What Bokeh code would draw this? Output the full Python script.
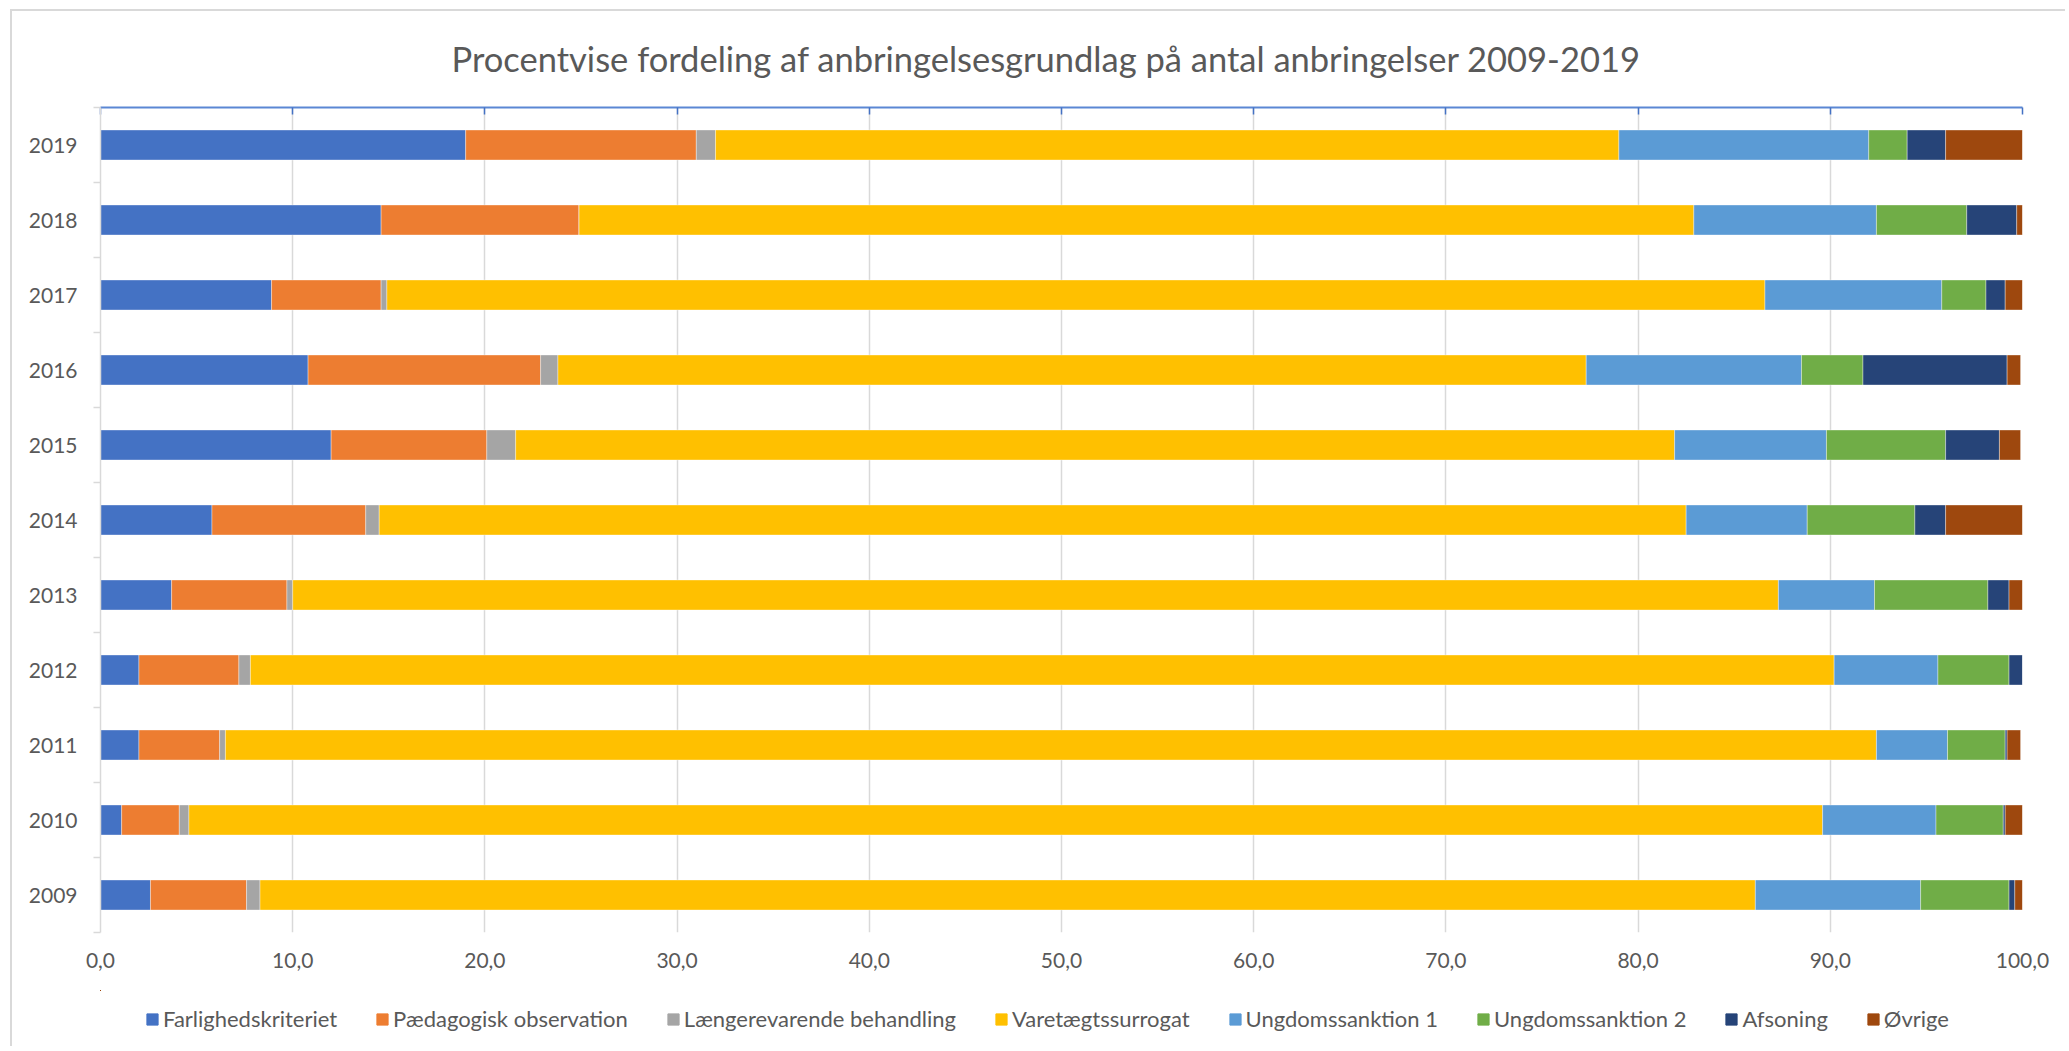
from bokeh.plotting import figure
from bokeh.models import ColumnDataSource, Range1d, FixedTicker, LinearAxis, Legend, LegendItem
from bokeh.layouts import column
from bokeh.embed import file_html
from bokeh.resources import INLINE

# ---------------- data ----------------
years = ["2009", "2010", "2011", "2012", "2013", "2014", "2015", "2016", "2017", "2018", "2019"]
farlighedskriteriet = [2.6, 1.1, 2.0, 2.0, 3.7, 5.8, 12.0, 10.8, 8.9, 14.6, 19.0]
paedagogisk_observation = [5.0, 3.0, 4.2, 5.2, 6.0, 8.0, 8.1, 12.1, 5.7, 10.3, 12.0]
laengerevarende_behandling = [0.7, 0.5, 0.3, 0.6, 0.3, 0.7, 1.5, 0.9, 0.3, 0.0, 1.0]
varetaegtssurrogat = [77.8, 85.0, 85.9, 82.4, 77.3, 68.0, 60.3, 53.5, 71.7, 58.0, 47.0]
ungdomssanktion_1 = [8.6, 5.9, 3.7, 5.4, 5.0, 6.3, 7.9, 11.2, 9.2, 9.5, 13.0]
ungdomssanktion_2 = [4.6, 3.5, 3.0, 3.7, 5.9, 5.6, 6.2, 3.2, 2.3, 4.7, 2.0]
afsoning = [0.3, 0.1, 0.1, 0.7, 1.1, 1.6, 2.8, 7.5, 1.0, 2.6, 2.0]
oevrige = [0.4, 0.9, 0.7, 0.0, 0.7, 4.0, 1.1, 0.7, 0.9, 0.3, 4.0]

series_names = ["Farlighedskriteriet", "Pædagogisk observation", "Længerevarende behandling",
                "Varetægtssurrogat", "Ungdomssanktion 1", "Ungdomssanktion 2", "Afsoning", "Øvrige"]
series_keys = ["farlig", "paed", "laeng", "varet", "ung1", "ung2", "afs", "ovr"]
series_values = [farlighedskriteriet, paedagogisk_observation, laengerevarende_behandling,
                 varetaegtssurrogat, ungdomssanktion_1, ungdomssanktion_2, afsoning, oevrige]
colors = ["#4472C4", "#ED7D31", "#A5A5A5", "#FFC000", "#5B9BD5", "#70AD47", "#264478", "#9E480E"]

x_ticks = [0, 10, 20, 30, 40, 50, 60, 70, 80, 90, 100]
x_tick_labels = ["0,0", "10,0", "20,0", "30,0", "40,0", "50,0", "60,0", "70,0", "80,0", "90,0", "100,0"]
title_text = "Procentvise fordeling af anbringelsesgrundlag på antal anbringelser 2009-2019"

# ---------------- build ----------------
y_pos = list(range(len(years)))
data = {"y": y_pos, "year": years}
for k, v in zip(series_keys, series_values):
    data[k] = v
source = ColumnDataSource(data)

TXT = "#595959"
FONT = "Lato"
BORDER = "#d9d9d9"
W = 2065

p = figure(width=W, height=990, output_backend="svg", toolbar_location=None,
           x_range=Range1d(0, 100), y_range=Range1d(-0.5, len(years) - 0.5),
           min_border_left=100, min_border_right=43, min_border_top=107, min_border_bottom=58)
p.outline_line_color = None
p.border_fill_color = None

p.title.text = title_text
p.title.align = "left"
p.title.offset = 351
p.title.text_font = FONT
p.title.text_font_size = "34.5px"
p.title.text_font_style = "normal"
p.title.text_color = TXT
p.title.standoff = 57

renderers = p.hbar_stack(series_keys, y="y", height=0.4, color=colors, source=source,
                         line_color="white", line_width=0.6, line_alpha=0.6)

# grid
p.ygrid.visible = False
p.xgrid.ticker = FixedTicker(ticks=x_ticks)
p.xgrid.grid_line_color = BORDER
p.xgrid.grid_line_width = 1.5

# bottom axis (labels only)
xa = p.xaxis[0]
xa.ticker = FixedTicker(ticks=x_ticks)
xa.major_label_overrides = {t: lab for t, lab in zip(x_ticks, x_tick_labels)}
xa.axis_line_color = None
xa.major_tick_line_color = None
xa.minor_tick_line_color = None
xa.major_tick_out = 0
xa.major_tick_in = 0
xa.major_label_standoff = 20
xa.major_label_text_font = FONT
xa.major_label_text_font_size = "21px"
xa.major_label_text_color = TXT

# top axis (blue line with inner ticks, no labels)
ta = LinearAxis(ticker=FixedTicker(ticks=[], minor_ticks=x_ticks))
ta.axis_line_color = "#5B87D4"
ta.axis_line_width = 2
ta.major_tick_line_color = None
ta.minor_tick_line_color = "#4472C4"
ta.minor_tick_line_width = 1.5
ta.minor_tick_in = 7
ta.minor_tick_out = 0
ta.major_tick_out = 0
p.add_layout(ta, "above")

# left axis (year labels, ticks between categories)
ya = p.yaxis[0]
ya.ticker = FixedTicker(ticks=y_pos, minor_ticks=[i - 0.5 for i in range(len(years) + 1)])
ya.major_label_overrides = {i: yr for i, yr in zip(y_pos, years)}
ya.major_tick_line_color = None
ya.major_tick_out = 0
ya.major_tick_in = 0
ya.minor_tick_line_color = BORDER
ya.minor_tick_line_width = 1.5
ya.minor_tick_out = 7
ya.minor_tick_in = 0
ya.axis_line_color = BORDER
ya.axis_line_width = 1.5
ya.major_label_standoff = 16
ya.major_label_text_font = FONT
ya.major_label_text_font_size = "21px"
ya.major_label_text_color = TXT

# ---------------- legend strip (same series, drawn outside its view) ----------------
lg = figure(width=W, height=56, output_backend="svg", toolbar_location=None,
            x_axis_type=None, y_axis_type=None,
            x_range=Range1d(1000, 1100), y_range=Range1d(-50, -40), min_border=0)
lg.outline_line_color = None
lg.border_fill_color = None
lg.background_fill_color = None
swatches = lg.hbar_stack(series_keys, y="y", height=0.4, color=colors, source=source)

legend = Legend(items=[LegendItem(label=n, renderers=[r]) for n, r in zip(series_names, swatches)],
                orientation="horizontal", location=(45, 14))
legend.label_text_font = FONT
legend.label_text_font_size = "22px"
legend.label_text_color = TXT
legend.glyph_width = 14
legend.glyph_height = 14
legend.label_standoff = 4
legend.spacing = 38
legend.border_line_color = None
legend.background_fill_alpha = 0
legend.padding = 8
lg.add_layout(legend)

layout = column(p, lg, spacing=0)
layout.styles = {
    "background-image": f"linear-gradient({BORDER}, {BORDER}), linear-gradient({BORDER}, {BORDER})",
    "background-size": "2px 100%, 100% 2px",
    "background-position": "10px 9px, 10px 9px",
    "background-repeat": "no-repeat",
}

open("out.html", "w").write(file_html(layout, INLINE))
